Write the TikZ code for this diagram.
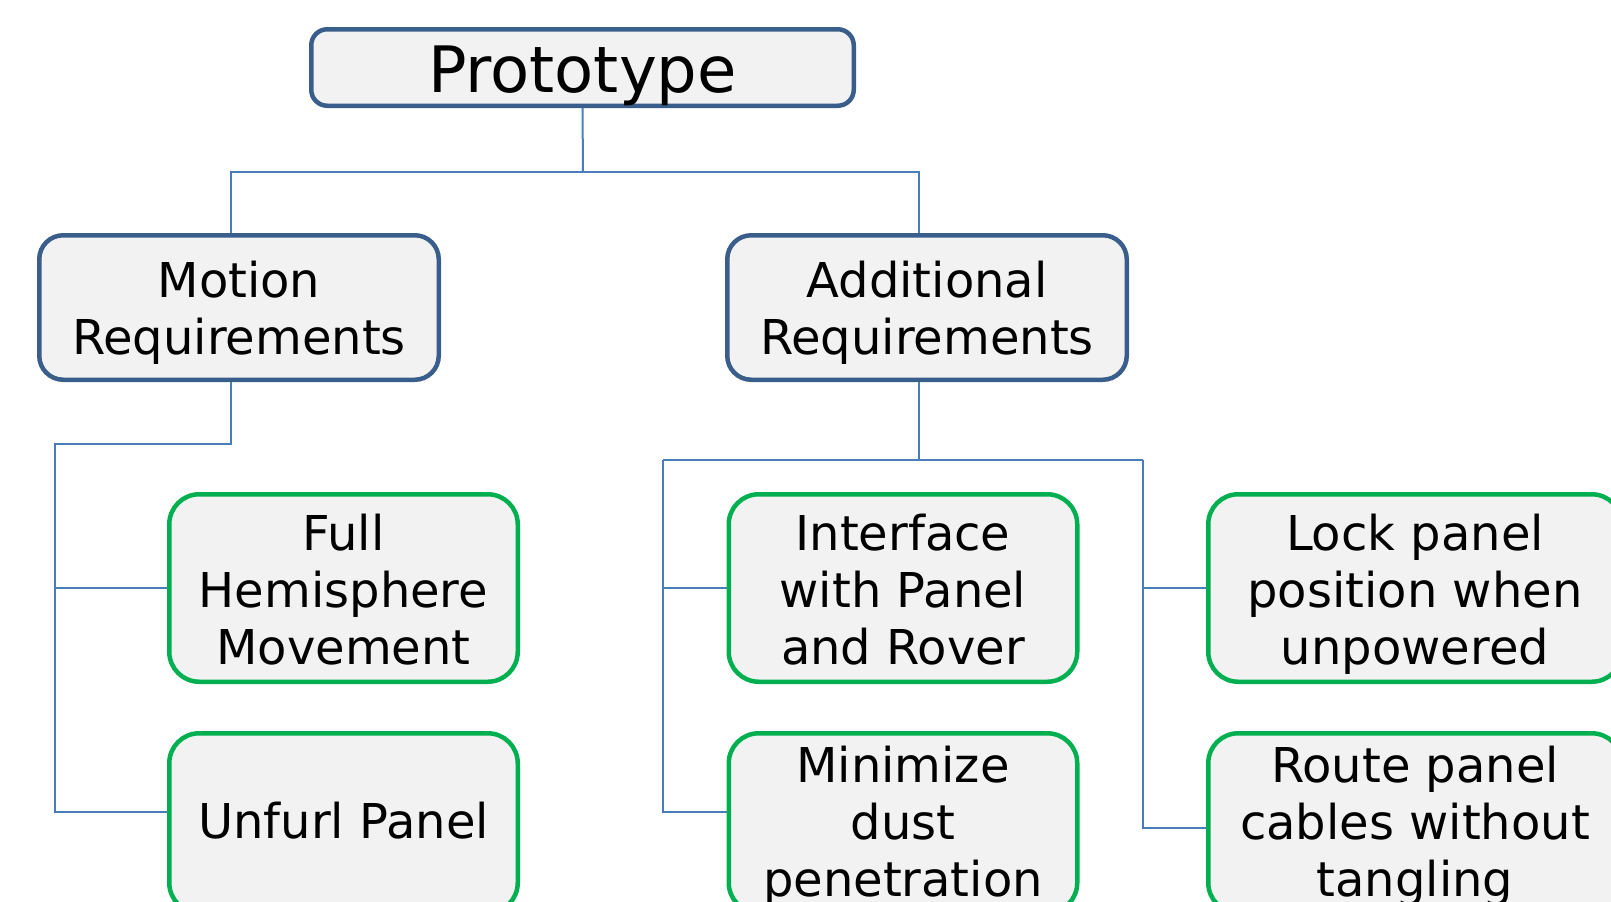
\documentclass[tikz,border=0pt]{standalone}
\usepackage{fontspec}
\setmainfont{DejaVu Sans}
\definecolor{headline}{RGB}{58,94,140}
\definecolor{leafline}{RGB}{0,176,80}
\definecolor{wire}{RGB}{74,126,187}
\definecolor{boxfill}{RGB}{242,242,242}
% centred lines of box text, drawn #1 lower while keeping the box extent
\newcommand\boxlines[2]{\raisebox{#1}[\height][\depth]{\begin{tabular}{@{}c@{}}#2\end{tabular}}}
\tikzset{
  basebox/.style={fill=boxfill, line width=2.25pt, inner sep=0pt,
    font=\fontsize{24pt}{28.5pt}\selectfont},
  topbox/.style={basebox, draw=headline, rounded corners=8pt,
    font=\fontsize{32pt}{38pt}\selectfont},
  groupbox/.style={basebox, draw=headline, rounded corners=12pt,
    minimum width=199.75pt, minimum height=72.25pt},
  leafbox/.style={basebox, draw=leafline, rounded corners=15pt,
    minimum width=174.25pt, minimum height=93.75pt},
  lowleaf/.style={leafbox, minimum height=89.75pt},
  link/.style={draw=wire, line width=1pt},
}
\begin{document}
\begin{tikzpicture}[x=0.5pt, y=-0.5pt]
\useasboundingbox (0,0) rectangle (1611,901);

% root
\node[topbox, minimum width=271.25pt, minimum height=38.25pt] (proto) at (582.5,67.5) {\boxlines{-5pt}{Prototype}};

% second level
\node[groupbox] (motion) at (239,307.5) {\boxlines{-3.5pt}{Motion\\Requirements}};
\node[groupbox] (extra) at (927,307.5) {\boxlines{-3.5pt}{Additional\\Requirements}};

% leaves
\node[leafbox] (full) at (343.5,588) {\boxlines{-4pt}{Full\\Hemisphere\\Movement}};
\node[lowleaf] (unfurl) at (343.5,823) {\boxlines{-2pt}{Unfurl Panel}};
\node[leafbox] (iface) at (903,588) {\boxlines{-4pt}{Interface\\with Panel\\and Rover}};
\node[lowleaf] (dust) at (903,823) {\boxlines{-2.5pt}{Minimize\\dust\\penetration}};
\node[leafbox, minimum width=206.75pt] (lock) at (1415,588) {\boxlines{-4pt}{Lock panel\\position when\\unpowered}};
\node[lowleaf, minimum width=206.75pt] (route) at (1415,823) {\boxlines{-2.5pt}{Route panel\\cables without\\tangling}};

% bus junctions
\coordinate (rootbus) at (583,172);
\coordinate (mtee) at (55,444);
\coordinate (abus) at (919,460);
\coordinate (aleft) at (663,460);
\coordinate (aright) at (1143,460);

% root to second level
\draw[link] (proto.south) -- (rootbus);
\draw[link] ([xshift=-4pt]motion.north) |- (rootbus) -| ([xshift=-4pt]extra.north);

% motion branch
\draw[link] ([xshift=-4pt]motion.south) |- (mtee) |- ([yshift=5.5pt]unfurl.west);
\draw[link] (mtee |- full.west) -- (full.west);

% additional branch
\draw[link] ([xshift=-4pt]extra.south) -- (abus);
\draw[link] (aleft) -- (aright);
\draw[link] (aleft) |- ([yshift=5.5pt]dust.west);
\draw[link] (aleft |- iface.west) -- (iface.west);
\draw[link] (aright) |- ([yshift=-2.5pt]route.west);
\draw[link] (aright |- lock.west) -- (lock.west);
\end{tikzpicture}
\end{document}
